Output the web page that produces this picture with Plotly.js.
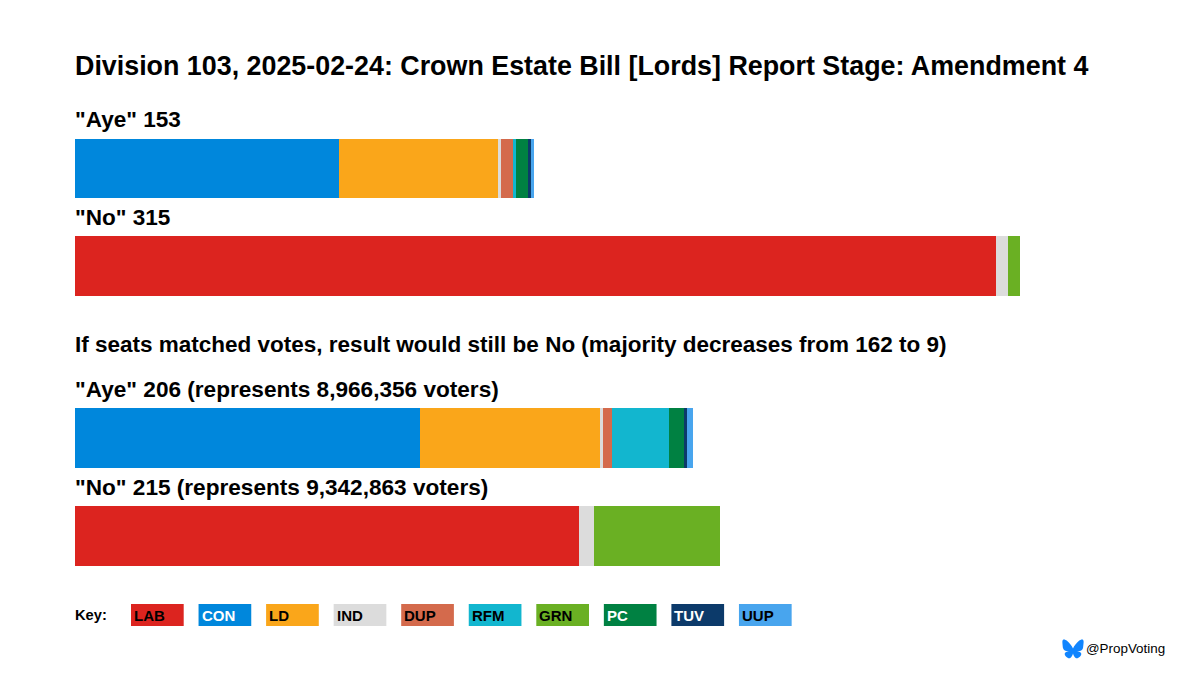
<!DOCTYPE html>
<html>
<head>
<meta charset="utf-8">
<script src="https://cdn.plot.ly/plotly-3.0.1.min.js"></script>
<style>
  html, body { margin: 0; padding: 0; background: #fff; }
  #chart { width: 1200px; height: 675px; }
</style>
</head>
<body>
<div id="chart"></div>
<script>
var parties = ["LAB", "CON", "LD", "IND", "DUP", "RFM", "GRN", "PC", "TUV", "UUP"];
var colours = ["#DC241F", "#0087DC", "#FAA61A", "#DCDCDC", "#D46A4C", "#12B6CF", "#6AB023", "#008142", "#0C3A6A", "#48A5EE"];
var keyText = ["#000", "#fff", "#000", "#000", "#000", "#000", "#000", "#fff", "#fff", "#000"];

var rows = ['"Aye"', '"No"'];

//-----Actual votes------
var actualAye = [0, 88, 53, 1, 4, 1, 0, 4, 1, 1];
var actualNo = [307, 0, 0, 4, 0, 0, 4, 0, 0, 0];

//-----If seats matched votes------
var matchedAye = [0, 115, 60, 1, 3, 19, 0, 5, 1, 2];
var matchedNo = [168, 0, 0, 5, 0, 0, 42, 0, 0, 0];
var matchedAyeVoters = "8,966,356";
var matchedNoVoters = "9,342,863";

var titleText = "Division 103, 2025-02-24: Crown Estate Bill [Lords] Report Stage: Amendment 4";
var subText = "If seats matched votes, result would still be No (majority decreases from 162 to 9)";
var handle = "@PropVoting";

var FONT = "Liberation Sans, Arial, sans-serif";
var W = 1200, H = 675;
var M = { l: 75, r: 90, t: 119.6, b: 90 };
var plotW = W - M.l - M.r, plotH = H - M.t - M.b;

function sum(a) { return a.reduce(function (s, v) { return s + v; }, 0); }
// page pixels to paper coordinates (paper means the plot area here)
function px(x) { return (x - M.l) / plotW; }
function py(y) { return (H - M.b - y) / plotH; }

var data = [];
parties.forEach(function (p, i) {
    data.push({ type: "bar", orientation: "h", name: p, y: rows, x: [actualAye[i], actualNo[i]],
        xaxis: "x", yaxis: "y", marker: { color: colours[i], line: { width: 0 } } });
    data.push({ type: "bar", orientation: "h", name: p, y: rows, x: [matchedAye[i], matchedNo[i]],
        xaxis: "x", yaxis: "y2", marker: { color: colours[i], line: { width: 0 } }, showlegend: false });
});

function label(text, x, y, size, anchor, colour) {
    return { text: "<b>" + text + "</b>", xref: "paper", yref: "paper", x: px(x), y: py(y),
        xanchor: anchor || "left", yanchor: "middle", showarrow: false, xshift: -2,
        font: { family: FONT, size: size, color: colour || "#000" } };
}

var annotations = [
    label(titleText, 75, 65.5, 26.85),
    label(rows[0] + " " + sum(actualAye), 75, 119.5, 22.55),
    label(rows[1] + " " + sum(actualNo), 75, 217.5, 22.55),
    label(subText, 75, 344.5, 22.5),
    label(rows[0] + " " + sum(matchedAye) + " (represents " + matchedAyeVoters + " voters)", 75, 389.5, 22.6),
    label(rows[1] + " " + sum(matchedNo) + " (represents " + matchedNoVoters + " voters)", 75, 487.5, 22.6),
    label("Key:", 75, 615, 14.7)
];

//-----Key------
var shapes = [];
parties.forEach(function (p, i) {
    var left = 131 + i * 67.55;
    shapes.push({ type: "rect", xref: "paper", yref: "paper", layer: "above",
        x0: px(left), x1: px(left + 52.7), y0: py(626), y1: py(604),
        fillcolor: colours[i], line: { width: 0 } });
    annotations.push(label(p, left + 3, 615.5, 15, "left", keyText[i]));
});

annotations.push({ text: handle, xref: "paper", yref: "paper", x: px(1084), y: py(648.5),
    xanchor: "left", yanchor: "middle", showarrow: false,
    font: { family: FONT, size: 13.4, color: "#000" } });

var butterfly = "m135.72 44.03c66.496 49.921 138.02 151.14 164.28 205.46 26.262-54.316 97.782-155.54 164.28-205.46 47.98-36.021 125.72-63.892 125.72 24.795 0 17.712-10.155 148.79-16.111 170.07-20.703 73.984-96.144 92.854-163.25 81.433 117.3 19.964 147.14 86.092 82.697 152.22-122.39 125.59-175.91-31.511-189.63-71.766-2.514-7.3797-3.6904-10.832-3.7077-7.8964-0.0174-2.9357-1.1937 0.51669-3.7077 7.8964-13.714 40.255-67.233 197.36-189.63 71.766-64.444-66.128-34.605-132.26 82.697-152.22-67.108 11.421-142.55-7.4491-163.25-81.433-5.9562-21.282-16.111-152.36-16.111-170.07 0-88.687 77.742-60.816 125.72-24.795z";
var logo = "data:image/svg+xml," + encodeURIComponent('<svg xmlns="http://www.w3.org/2000/svg" viewBox="0 0 600 530"><path fill="#1185fe" d="' + butterfly + '"/></svg>');

var layout = {
    width: W, height: H,
    margin: { l: M.l, r: M.r, t: M.t, b: M.b, pad: 0 },
    paper_bgcolor: "#fff", plot_bgcolor: "#fff",
    barmode: "stack", bargap: 0.39, showlegend: false,
    xaxis: { range: [0, 345], visible: false, fixedrange: true },
    yaxis: { domain: [0.581, 1], type: "category", categoryorder: "array", categoryarray: rows, autorange: "reversed", visible: false },
    yaxis2: { domain: [0, 0.421], type: "category", categoryorder: "array", categoryarray: rows, autorange: "reversed", visible: false },
    annotations: annotations,
    shapes: shapes,
    images: [{ source: logo, xref: "paper", yref: "paper", x: px(1062), y: py(639), sizex: 22 / plotW, sizey: 20 / plotH,
        xanchor: "left", yanchor: "top", sizing: "contain", layer: "above" }]
};

Plotly.newPlot("chart", data, layout, { displayModeBar: false, responsive: false });
</script>
</body>
</html>
